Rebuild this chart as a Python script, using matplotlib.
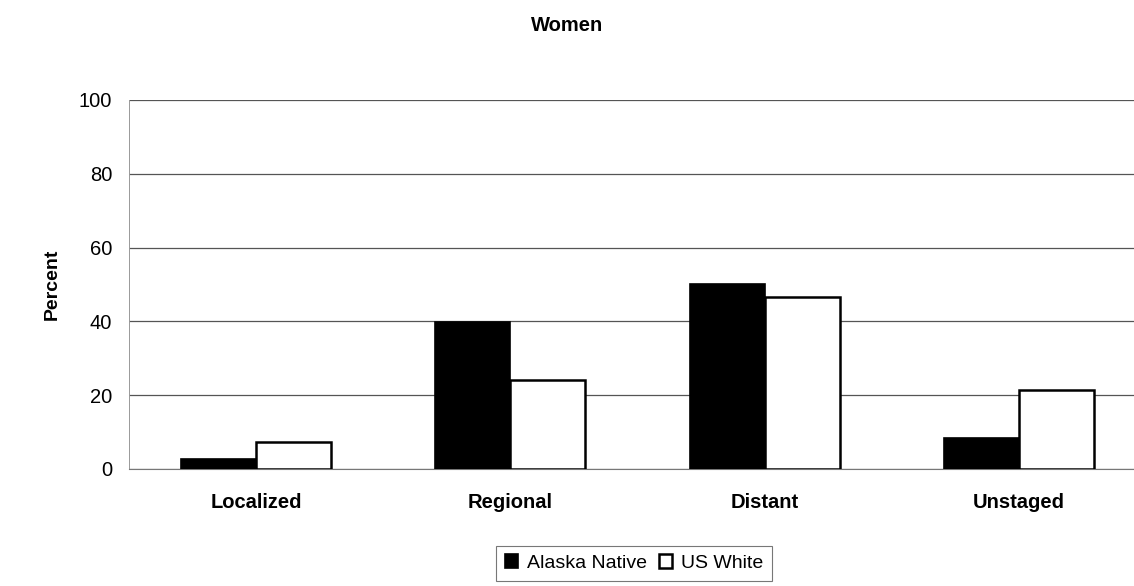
import numpy as np
import matplotlib.pyplot as plt

plt.rcParams['font.family'] = ['Liberation Sans', 'DejaVu Sans']

stages = ['Localized', 'Regional', 'Distant', 'Unstaged']
alaska_native = [2.7, 39.7, 50.0, 8.4]
us_white = [7.4, 24.0, 46.5, 21.5]

fig = plt.figure(figsize=(11.34, 5.86), dpi=100)
ax = fig.add_axes([0.1137, 0.1997, 0.8863, 0.6297])

x = np.arange(len(stages))
w = 0.295
ax.bar(x - w / 2, alaska_native, w, color='black', edgecolor='black',
       linewidth=1.2, label='Alaska Native', zorder=3)
ax.bar(x + w / 2, us_white, w, color='white', edgecolor='black',
       linewidth=1.8, label='US White', zorder=3)

ax.set_xlim(-0.5, 3.453)
ax.set_ylim(0, 100)
ax.set_yticks([0, 20, 40, 60, 80, 100])
ax.yaxis.grid(True, color='#555555', linewidth=0.9, zorder=0)
ax.set_xticks(x)
ax.set_xticklabels(stages, fontweight='bold', fontsize=14.5)
ax.tick_params(axis='x', length=0, pad=17)
ax.tick_params(axis='y', length=0, labelsize=14.5, pad=12)
for s in ['top', 'right']:
    ax.spines[s].set_visible(False)
ax.spines['bottom'].set_color('#777777')
ax.spines['left'].set_color('#999999')
ax.spines['left'].set_linewidth(0.7)

ax.set_ylabel('Percent', fontweight='bold', fontsize=14, labelpad=13)
fig.text(0.5, 0.956, 'Women', ha='center', va='center',
         fontweight='bold', fontsize=14.5)

leg = fig.legend(loc='center', bbox_to_anchor=(0.559, 0.039), ncol=2,
                 fontsize=14, frameon=True, fancybox=False,
                 handlelength=0.7, handleheight=0.7, handletextpad=0.45,
                 columnspacing=0.6, borderpad=0.45)
leg.get_frame().set_edgecolor('#555555')
leg.get_frame().set_linewidth(0.8)

fig.savefig('out.png', dpi=100)
plt.close(fig)
